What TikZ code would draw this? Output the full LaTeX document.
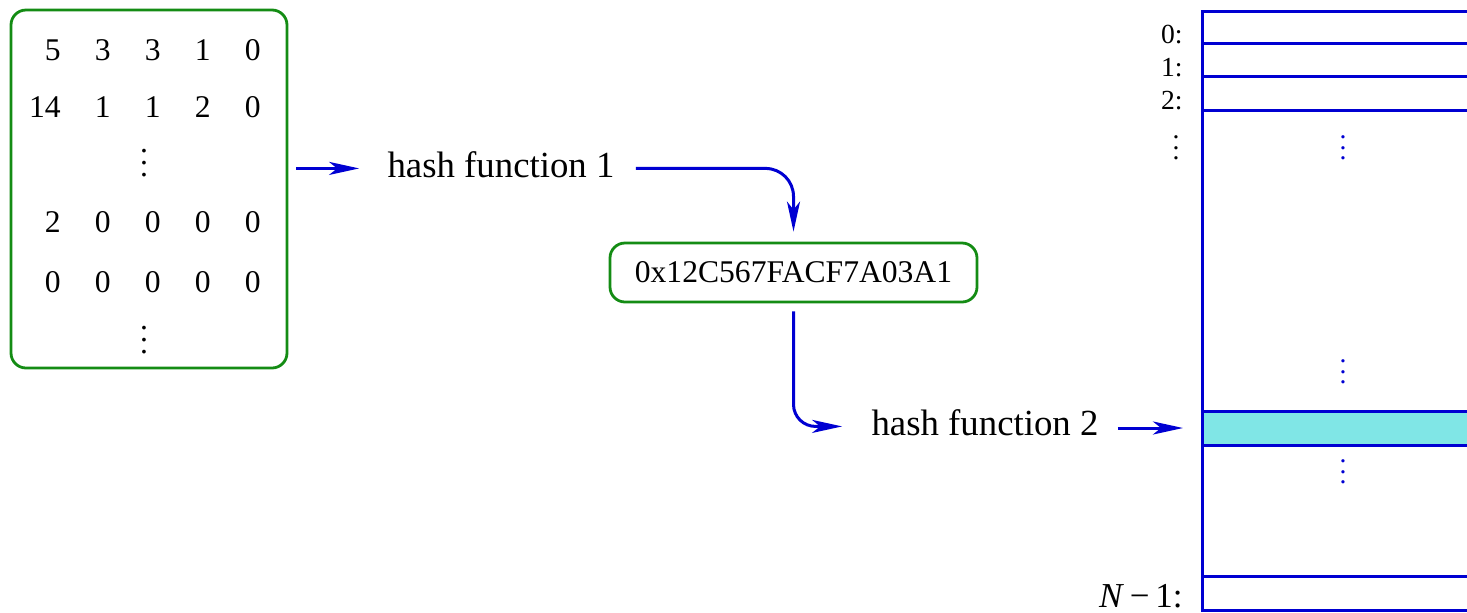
\documentclass[tikz,border=0pt]{standalone}
\usepackage{fontspec}
\setmainfont{Liberation Serif}
\usetikzlibrary{arrows.meta,calc}
\definecolor{linkblue}{RGB}{0,0,210}
\definecolor{boxgreen}{RGB}{20,140,20}
\definecolor{hitcyan}{RGB}{128,230,230}
% three stacked periods with a chosen gap
\newcommand\dotstack[1]{\vbox{\baselineskip=#1\lineskiplimit=-20pt\hbox{.}\hbox{.}\hbox{.}}}
\begin{document}
\begin{tikzpicture}[x=0.5pt,y=-0.5pt,
  roundbox/.style={draw=boxgreen, line width=1.4pt, rounded corners=7.5pt, inner sep=0},
  lbl/.style={inner sep=0, font=\fontsize{18.4}{22}\selectfont},
  num/.style={inner sep=0, anchor=base east, font=\fontsize{15.8}{19}\selectfont},
  slotlbl/.style={inner sep=0, anchor=base east, font=\fontsize{13.8}{16}\selectfont},
  arr/.style={draw=linkblue, line width=1.5pt, -{Stealth[length=15pt,width=6.5pt,inset=4pt]}},
  slot/.style={draw=linkblue, line width=1.5pt},
  dotsnode/.style={inner sep=0},
]
\clip (0,0) rectangle (1467,612);

% input matrix
\node[roundbox, minimum width=138pt, minimum height=179pt] (M) at (149,189) {};
\foreach \v [count=\c] in {5,3,3,1,0}  \node[num] (ma-\c) at (11+50*\c,60)  {\v};
\foreach \v [count=\c] in {14,1,1,2,0} \node[num] (mb-\c) at (11+50*\c,117) {\v};
\foreach \v [count=\c] in {2,0,0,0,0}  \node[num] (mc-\c) at (11+50*\c,232) {\v};
\foreach \v [count=\c] in {0,0,0,0,0}  \node[num] (md-\c) at (11+50*\c,292) {\v};
\node[dotsnode, font=\fontsize{15.8}{19}\selectfont] (mdots1) at (144,163) {\dotstack{5.85pt}};
\node[dotsnode, font=\fontsize{15.8}{19}\selectfont] (mdots2) at (144,340) {\dotstack{5.85pt}};

% hashing steps
\node[lbl, anchor=base] (H1) at (501,177) {hash function 1};
\node[roundbox, minimum width=183.5pt, minimum height=29.5pt,
      font=\fontsize{15.8}{19}\selectfont] (K) at (793.5,272.5) {0x12C567FACF7A03A1};
\node[lbl, anchor=base] (H2) at (985,435) {hash function 2};

% table of slots
\node[slot, inner sep=0, anchor=north west, minimum width=170pt, minimum height=299.5pt] (T) at (1201,10) {};
\foreach \y in {43,76,110,576} \draw[slot] (T.west |- 0,\y) -- ++(340,0);
\node[slot, fill=hitcyan, inner sep=0, anchor=north west, minimum width=170pt, minimum height=17pt] (hit) at (1201,409.5) {};
\node[dotsnode, text=linkblue, font=\fontsize{13.8}{16}\selectfont] (td1) at (1343,148) {\dotstack{5.25pt}};
\node[dotsnode, text=linkblue, font=\fontsize{13.8}{16}\selectfont] (td2) at (1343,372) {\dotstack{5.25pt}};
\node[dotsnode, text=linkblue, font=\fontsize{13.8}{16}\selectfont] (td3) at (1343,472) {\dotstack{5.25pt}};

% slot indices
\node[slotlbl] (l0) at (1183,43) {0:};
\node[slotlbl] (l1) at (1183,76) {1:};
\node[slotlbl] (l2) at (1183,109) {2:};
\node[dotsnode, font=\fontsize{13.8}{16}\selectfont] (ldots) at (1176,148) {\dotstack{5.25pt}};
\node[slotlbl, font=\fontsize{17.5}{20}\selectfont] (lN) at (1183,607) {\textit{N}\,−\,1:};

% arrow ends at the text's middle height
\coordinate (h1w) at ([yshift=2pt]H1.mid west);
\coordinate (h1e) at ([yshift=2pt]H1.mid east);
\coordinate (h2w) at ([yshift=2pt]H2.mid west);

% connectors
\draw[arr, shorten <=4pt, shorten >=14pt] (M.east |- h1w) -- (h1w);
\draw[arr, rounded corners=14pt, shorten <=10.5pt, shorten >=5pt] (h1e) -| (K.north);
\draw[arr, rounded corners=11pt, shorten <=4pt, shorten >=14.5pt] (K.south) |- (h2w);
\draw[arr, shorten <=9.5pt, shorten >=9pt] (hit.west -| H2.east) -- (hit.west);
\end{tikzpicture}
\end{document}
